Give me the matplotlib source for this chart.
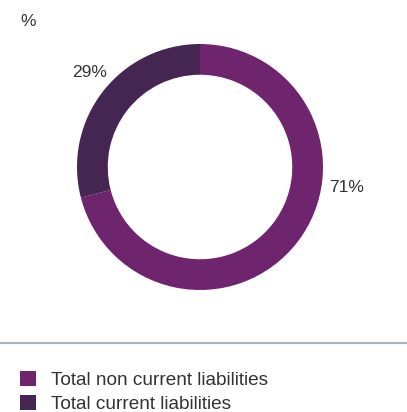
import matplotlib.pyplot as plt
from matplotlib.lines import Line2D

# Liabilities split, in percent
labels = ["Total non current liabilities", "Total current liabilities"]
shares = [71, 29]
colors = ["#6f246e", "#452552"]

W, H = 407, 412

plt.rcParams["font.family"] = ["Liberation Sans", "DejaVu Sans"]

fig = plt.figure(figsize=(W / 100, H / 100), dpi=100)

# donut centred at (200,167) px, outer radius ~123 px
cx, cy, r = 200, 167, 123
ax = fig.add_axes([(cx - r) / W, (H - cy - r) / H, 2 * r / W, 2 * r / H])
wedges, _ = ax.pie(
    shares,
    colors=colors,
    startangle=90,
    counterclock=False,
    radius=1,
    wedgeprops=dict(width=0.25, edgecolor="none"),
)
ax.set_xlim(-1, 1)
ax.set_ylim(-1, 1)
ax.set_aspect("equal")

# percentage labels outside the ring
label_pos = [(1.19, -0.17), (-0.90, 0.77)]
for (x, y), v in zip(label_pos, shares):
    ax.text(x, y, f"{v}%", ha="center", va="center", fontsize=12.5,
            color="#333333", clip_on=False)

fig.text(28 / W, 1 - 22 / H, "%", ha="center", va="center",
         fontsize=12.5, color="#333333")

# separator line
fig.add_artist(Line2D([0, 1], [1 - 343 / H] * 2, transform=fig.transFigure,
                      color="#a7b3c4", linewidth=1.5))

fig.legend(
    wedges, labels,
    loc="upper left",
    bbox_to_anchor=(20 / W, 1 - 371 / H),
    frameon=False,
    fontsize=13.7,
    handlelength=0.82,
    handleheight=0.82,
    handletextpad=0.8,
    labelspacing=0.3,
    borderpad=0,
    borderaxespad=0,
    labelcolor="#333333",
)

fig.savefig("out.png", dpi=100)
